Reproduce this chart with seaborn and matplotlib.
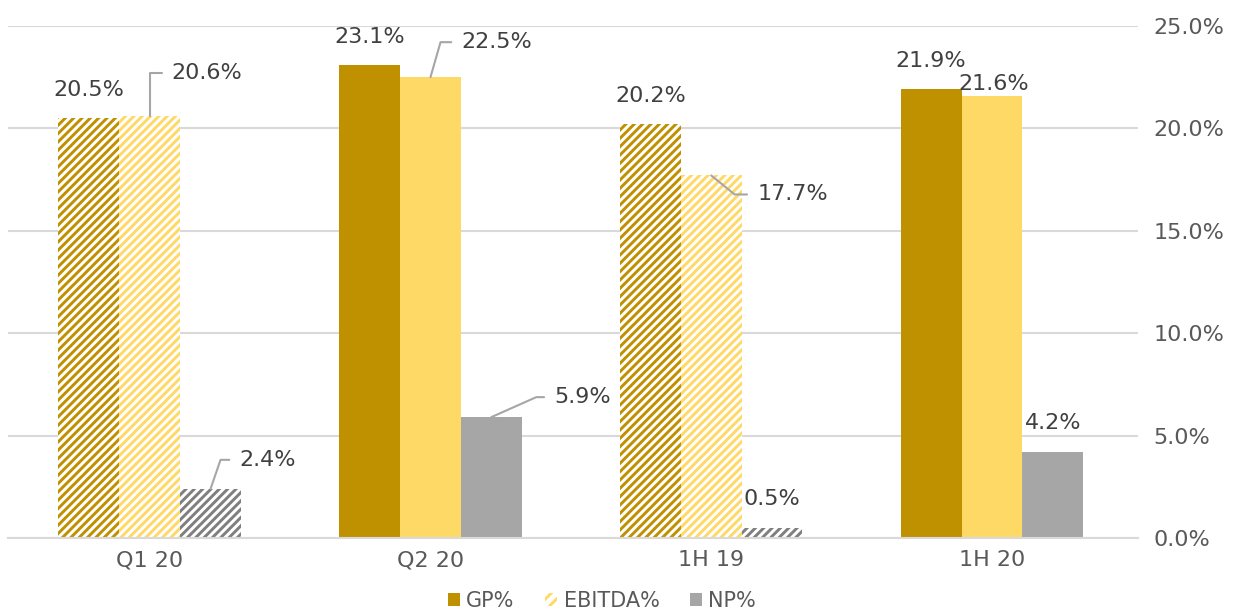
import pandas as pd
import matplotlib.pyplot as plt
import matplotlib.patches as mpatches
import seaborn as sns

# data (percent)
periods = ['Q1 20', 'Q2 20', '1H 19', '1H 20']
metrics = ['GP%', 'EBITDA%', 'NP%']
gp = [20.5, 23.1, 20.2, 21.9]
ebitda = [20.6, 22.5, 17.7, 21.6]
net = [2.4, 5.9, 0.5, 4.2]
hatched_periods = ['Q1 20', '1H 19']
y_ticks = [0, 5, 10, 15, 20, 25]

colors = {'GP%': '#BF9000', 'EBITDA%': '#FFD966', 'NP%': '#A6A6A6'}
hatch_colors = {'GP%': '#BF9000', 'EBITDA%': '#FFD966', 'NP%': '#7F7F7F'}

# label placement: (dx, dy) in pixels from bar top centre, leader angle or None
label_pos = {
    ('GP%', 'Q1 20'): (0, 28, None),
    ('EBITDA%', 'Q1 20'): (22, 43, 90),
    ('NP%', 'Q1 20'): (29, 29, 71),
    ('GP%', 'Q2 20'): (0, 28, None),
    ('EBITDA%', 'Q2 20'): (31, 35, 74),
    ('NP%', 'Q2 20'): (63, 20, 24),
    ('GP%', '1H 19'): (0, 28, None),
    ('EBITDA%', '1H 19'): (46, -19, -39),
    ('NP%', '1H 19'): (0, 29, None),
    ('GP%', '1H 20'): (0, 28, None),
    ('EBITDA%', '1H 20'): (2, 12, None),
    ('NP%', '1H 20'): (0, 29, None),
}

df = pd.DataFrame({
    'Period': periods * 3,
    'Metric': [m for m in metrics for _ in periods],
    'Value': gp + ebitda + net,
})

sns.set_style('white')
plt.rcParams['font.family'] = ['DejaVu Sans']
plt.rcParams['hatch.linewidth'] = 2.1

fig = plt.figure(figsize=(12.41, 6.14), dpi=100)
ax = fig.add_axes([0.0064, 0.1238, 0.9106, 0.8339])

sns.barplot(data=df, x='Period', y='Value', hue='Metric', order=periods,
            hue_order=metrics, palette=colors, width=0.65, saturation=1,
            legend=False, ax=ax)

for metric, cont in zip(metrics, ax.containers):
    for period, bar in zip(periods, cont):
        bar.set_linewidth(0)
        if period in hatched_periods:
            bar.set_facecolor('white')
            bar.set_edgecolor(hatch_colors[metric])
            bar.set_hatch('////')
        x = bar.get_x() + bar.get_width() / 2
        y = bar.get_height()
        dx, dy, ang = label_pos[(metric, period)]
        txt = f'{y:.1f}%'
        if ang is None:
            ax.annotate(txt, (x, y), xytext=(dx, dy), textcoords='offset pixels',
                        ha='center', va='center', fontsize=16, color='#404040')
        else:
            ax.annotate(txt, (x, y), xytext=(dx, dy), textcoords='offset pixels',
                        ha='left', va='center', fontsize=16, color='#404040',
                        arrowprops=dict(arrowstyle='-', color='#A6A6A6', lw=1.5,
                                        relpos=(0, 0.5), shrinkA=5, shrinkB=0,
                                        connectionstyle=f'angle,angleA=0,angleB={ang},rad=0'))

ax.set_xlim(-0.505, 3.52)
ax.set_ylim(0, 25)
ax.set_yticks(y_ticks)
ax.set_yticklabels([f'{t:.1f}%' for t in y_ticks])
ax.yaxis.tick_right()
ax.yaxis.grid(True, color='#D9D9D9', linewidth=1.5)
ax.set_axisbelow(True)
ax.tick_params(axis='y', length=0, pad=11, labelsize=16, labelcolor='#595959')
ax.tick_params(axis='x', length=0, pad=9, labelsize=16, labelcolor='#595959')
ax.set_xlabel('')
ax.set_ylabel('')
for side in ['top', 'left', 'right']:
    ax.spines[side].set_visible(False)
ax.spines['bottom'].set_color('#D9D9D9')
ax.spines['bottom'].set_linewidth(1.5)

handles = [
    mpatches.Patch(facecolor=colors['GP%'], edgecolor='none', label='GP%'),
    mpatches.Patch(facecolor='white', edgecolor=colors['EBITDA%'], hatch='///', linewidth=0, label='EBITDA%'),
    mpatches.Patch(facecolor=colors['NP%'], edgecolor='none', label='NP%'),
]
leg = fig.legend(handles=handles, loc='center', bbox_to_anchor=(0.485, 0.021), ncol=3,
                 frameon=False, fontsize=15, handlelength=0.6, handleheight=0.6,
                 handletextpad=0.3, columnspacing=1.45)
for t in leg.get_texts():
    t.set_color('#595959')

fig.savefig('out.png', dpi=100)
